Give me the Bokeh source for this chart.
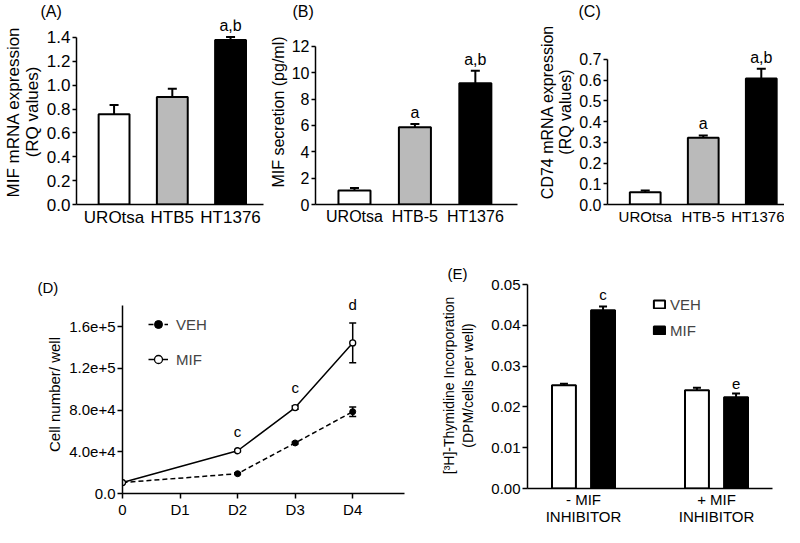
from bokeh.plotting import figure
from bokeh.layouts import row, column
from bokeh.models import Range1d, FixedTicker, Legend, LegendItem, PrintfTickFormatter
from bokeh.core.properties import value
from bokeh.embed import file_html
from bokeh.resources import INLINE

FONT = "Liberation Sans"

# ---------------- data ----------------
a_categories = ["UROtsa", "HTB5", "HT1376"]
a_means = [0.757, 0.900, 1.378]
a_sem = [0.076, 0.069, 0.025]
a_marks = ["", "", "a,b"]
a_yticks = [0.0, 0.2, 0.4, 0.6, 0.8, 1.0, 1.2, 1.4]

b_categories = ["UROtsa", "HTB-5", "HT1376"]
b_means = [1.06, 5.86, 9.2]
b_sem = [0.2, 0.25, 0.96]
b_marks = ["", "a", "a,b"]
b_yticks = [0, 2, 4, 6, 8, 10, 12]

c_categories = ["UROtsa", "HTB-5", "HT1376"]
c_means = [0.059, 0.322, 0.608]
c_sem = [0.008, 0.011, 0.047]
c_marks = ["", "a", "a,b"]
c_yticks = [0.0, 0.1, 0.2, 0.3, 0.4, 0.5, 0.6, 0.7]

d_day_labels = ["0", "D1", "D2", "D3", "D4"]
d_days = [0, 2, 3, 4]
d_veh = [10500, 19000, 48500, 78500]
d_veh_err = [0, 800, 900, 4500]
d_mif = [10500, 41000, 82500, 144500]
d_mif_err = [0, 1000, 1600, 19000]
d_marks = ["", "c", "c", "d"]
d_yticks = [0, 40000, 80000, 120000, 160000]
d_ytick_labels = ["0.0", "4.0e+4", "8.0e+4", "1.2e+5", "1.6e+5"]

e_groups = ["- MIF\nINHIBITOR", "+ MIF\nINHIBITOR"]
e_veh = [0.0253, 0.0241]
e_veh_err = [0.0004, 0.0006]
e_mif = [0.0437, 0.0224]
e_mif_err = [0.0009, 0.0009]
e_mif_marks = ["c", "e"]
e_yticks = [0.00, 0.01, 0.02, 0.03, 0.04, 0.05]

bar_colors = ["white", "#bababa", "black"]


# ---------------- helpers ----------------
def base_fig(w, h, xr, yr, bl, br, bt, bb, title, t_offset, t_size, t_standoff):
    p = figure(width=w, height=h, x_range=Range1d(*xr), y_range=Range1d(*yr),
               output_backend="svg", toolbar_location=None,
               min_border_left=bl, min_border_right=br,
               min_border_top=bt, min_border_bottom=bb, title=title)
    p.title.align = "left"
    p.title.offset = t_offset
    p.title.standoff = t_standoff
    p.title.text_font = FONT
    p.title.text_font_size = t_size
    p.title.text_font_style = "normal"
    p.title.text_color = "black"
    p.xgrid.visible = False
    p.ygrid.visible = False
    p.outline_line_color = None
    for ax in (p.xaxis[0], p.yaxis[0]):
        ax.axis_line_width = 1.5
        ax.axis_line_color = "black"
        ax.major_tick_line_width = 1.5
        ax.major_tick_line_color = "black"
        ax.major_tick_in = 0
        ax.major_tick_out = 5
        ax.minor_tick_line_color = None
        ax.major_label_text_font = FONT
        ax.major_label_text_color = "black"
        ax.major_label_standoff = 2
        ax.axis_label_text_font = FONT
        ax.axis_label_text_font_style = "normal"
        ax.axis_label_text_color = "black"
    return p


def bar_panel(w, h, cats, means, sem, marks, yticks, fmt, ylabel, xr, x_end, yr, y_end,
              bl, br, bt, bb, lab, t_offset, fs="16px", xfs="16px", ylabel_lh=1.1):
    p = base_fig(w, h, xr, yr, bl, br, bt, bb, lab, t_offset, "16px", 0)
    xs = list(range(1, len(cats) + 1))
    tops = [m + s for m, s in zip(means, sem)]
    p.segment(x0=xs, y0=means, x1=xs, y1=tops, line_color="black", line_width=2)
    p.scatter(x=xs, y=tops, marker="dash", size=9, line_color="black", line_width=2)
    p.vbar(x=xs, top=means, width=0.53, fill_color=bar_colors, line_color="black", line_width=2)
    p.text(x=xs, y=tops, text=marks, text_align="center", text_baseline="bottom",
           y_offset=-3, text_font=value(FONT), text_font_size="16px", text_color="black")
    p.xaxis.bounds = (xr[0], x_end)
    p.yaxis.bounds = (0, y_end)
    p.xaxis.ticker = FixedTicker(ticks=xs)
    p.xaxis.major_label_overrides = {x: c for x, c in zip(xs, cats)}
    p.xaxis.major_tick_out = 0
    p.xaxis.major_label_standoff = 3
    p.xaxis.major_label_text_font_size = xfs
    p.yaxis.ticker = FixedTicker(ticks=yticks)
    p.yaxis.formatter = PrintfTickFormatter(format=fmt)
    p.yaxis.major_label_text_font_size = fs
    p.yaxis.major_tick_out = 4
    p.yaxis.axis_label = ylabel
    p.yaxis.axis_label_text_font_size = fs
    p.yaxis.axis_label_text_line_height = ylabel_lh
    p.yaxis.axis_label_standoff = 2
    return p


# ---------------- top row ----------------
pA = bar_panel(265, 246, a_categories, a_means, a_sem, a_marks, a_yticks, "%.1f",
               "MIF mRNA expression\n(RQ values)", (0.355, 3.6), 3.56, (0, 1.55), 1.4,
               68, 0, 0, 42, "(A)", -36, fs="17px", xfs="17px", ylabel_lh=1.0)
pB = bar_panel(260, 246, b_categories, b_means, b_sem, b_marks, b_yticks, "%d",
               "MIF secretion (pg/ml)", (0.355, 3.83), 3.69, (0, 14.04), 12,
               50, 0, 0, 42, "(B)", -23)
pC = bar_panel(259, 246, c_categories, c_means, c_sem, c_marks, c_yticks, "%.1f",
               "CD74 mRNA expression\n(RQ values)", (0.35, 3.4), 3.4, (0, 0.892), 0.7,
               82, 0, 0, 42, "(C)", -29, xfs="15px")

# ---------------- panel D ----------------
pD = base_fig(420, 281, (0, 4.9), (0, 190000), 122, 16, 49, 34, "(D)", -85, "15px", 0)
pD.yaxis.bounds = (0, 180000)
veh_line = pD.line(d_days, d_veh, line_color="black", line_width=1.5, line_dash="5 3")
mif_line = pD.line(d_days, d_mif, line_color="black", line_width=1.5)
for ys, es in ((d_veh, d_veh_err), (d_mif, d_mif_err)):
    lo = [y - e for y, e in zip(ys, es)]
    hi = [y + e for y, e in zip(ys, es)]
    pD.segment(x0=d_days, y0=lo, x1=d_days, y1=hi, line_color="black", line_width=1.5)
    pD.scatter(x=d_days + d_days, y=lo + hi, marker="dash", size=7, line_color="black", line_width=1.5)
veh_pts = pD.scatter(d_days, d_veh, marker="circle", size=6, fill_color="black", line_color="black")
mif_pts = pD.scatter(d_days, d_mif, marker="circle", size=6, fill_color="white", line_color="black",
                     line_width=1.3)
mif_tops = [m + e for m, e in zip(d_mif, d_mif_err)]
pD.text(x=d_days, y=mif_tops, text=d_marks, text_align="center", text_baseline="bottom",
        y_offset=-10, text_font=value(FONT), text_font_size="15px", text_color="black")
pD.xaxis.ticker = FixedTicker(ticks=list(range(len(d_day_labels))))
pD.xaxis.major_label_overrides = {i: l for i, l in enumerate(d_day_labels)}
pD.xaxis.major_label_text_font_size = "15px"
pD.yaxis.ticker = FixedTicker(ticks=d_yticks)
pD.yaxis.major_label_overrides = {t: l for t, l in zip(d_yticks, d_ytick_labels)}
pD.yaxis.major_label_text_font_size = "15px"
pD.yaxis.axis_label = "Cell number/ well"
pD.yaxis.axis_label_text_font_size = "15px"
pD.yaxis.axis_label_standoff = 3
legD = Legend(items=[LegendItem(label="VEH", renderers=[veh_line, veh_pts]),
                     LegendItem(label="MIF", renderers=[mif_line, mif_pts])],
              location=(26, 124), padding=0, margin=0, spacing=15,
              label_text_font=FONT, label_text_font_size="15px", label_height=20,
              glyph_height=20, glyph_width=20, label_standoff=8,
              border_line_color=None, background_fill_alpha=0)
pD.add_layout(legD)

# ---------------- panel E ----------------
pE = base_fig(364, 281, (0.579, 2.421), (0, 0.0505), 107, 12, 36, 34, "(E)", -80, "15px", 1)
pE.yaxis.bounds = (0, 0.05)
gx = list(range(1, len(e_groups) + 1))
off = 0.147
veh_x = [g - off for g in gx]
mif_x = [g + off for g in gx]
for xs, ms, es in ((veh_x, e_veh, e_veh_err), (mif_x, e_mif, e_mif_err)):
    tops = [m + e for m, e in zip(ms, es)]
    pE.segment(x0=xs, y0=ms, x1=xs, y1=tops, line_color="black", line_width=2)
    pE.scatter(x=xs, y=tops, marker="dash", size=8, line_color="black", line_width=2)
veh_bars = pE.vbar(x=veh_x, top=e_veh, width=0.18, fill_color="white", line_color="black", line_width=2)
mif_bars = pE.vbar(x=mif_x, top=e_mif, width=0.18, fill_color="black", line_color="black", line_width=2)
pE.text(x=mif_x, y=[m + e for m, e in zip(e_mif, e_mif_err)], text=e_mif_marks,
        text_align="center", text_baseline="bottom", y_offset=-4,
        text_font=value(FONT), text_font_size="15px", text_color="black")
pE.xaxis.ticker = FixedTicker(ticks=gx)
pE.xaxis.major_label_overrides = {g: l for g, l in zip(gx, e_groups)}
pE.xaxis.major_label_text_font_size = "15px"
pE.xaxis.major_label_text_line_height = 1.0
pE.xaxis.major_tick_out = 0
pE.yaxis.ticker = FixedTicker(ticks=e_yticks)
pE.yaxis.formatter = PrintfTickFormatter(format="%.2f")
pE.yaxis.major_label_text_font_size = "15px"
pE.yaxis.axis_label = "[³H]-Thymidine Incorporation\n(DPM/cells per well)"
pE.yaxis.axis_label_text_font_size = "14px"
pE.yaxis.axis_label_text_line_height = 1.2
pE.yaxis.axis_label_standoff = 12
legE = Legend(items=[LegendItem(label="VEH", renderers=[veh_bars]),
                     LegendItem(label="MIF", renderers=[mif_bars])],
              location=(125, 148), padding=0, margin=0, spacing=6,
              label_text_font=FONT, label_text_font_size="15px", label_height=20,
              glyph_height=10, glyph_width=14, label_standoff=4,
              border_line_color=None, background_fill_alpha=0)
pE.add_layout(legE)

layout = column(row(pA, pB, pC), row(column(pD), column(pE)))
open("out.html", "w").write(file_html(layout, INLINE))
